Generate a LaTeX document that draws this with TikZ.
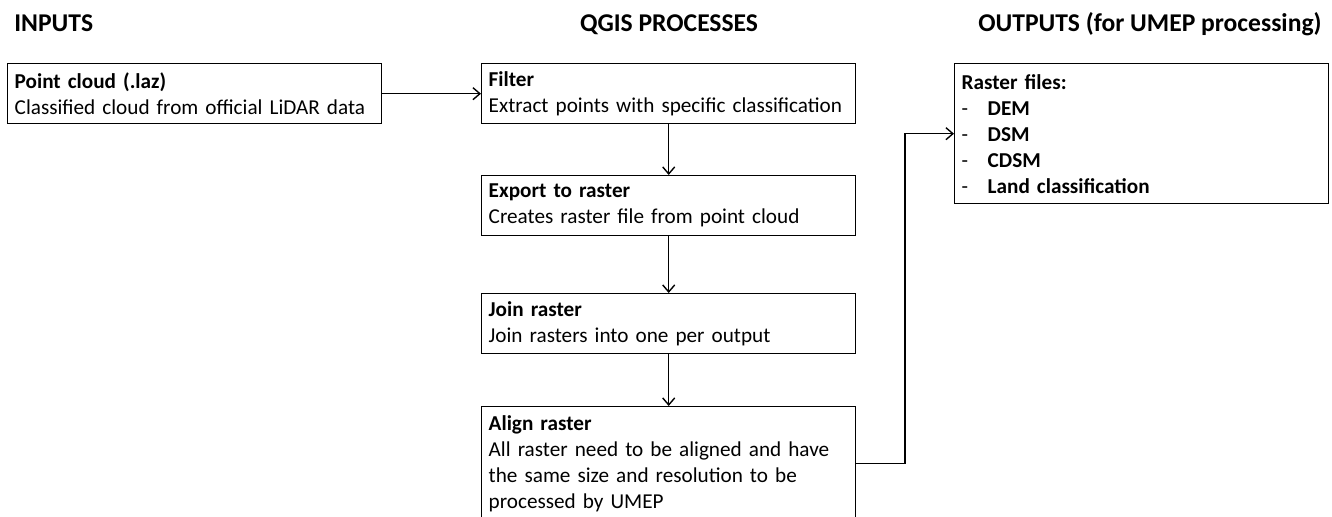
\documentclass[tikz,border=0pt]{standalone}
\usepackage{fontspec}
\setmainfont{Carlito}
\usetikzlibrary{arrows.meta}

\begin{document}
\begin{tikzpicture}[x=0.5pt,y=-0.5pt,
  box/.style={draw,line width=0.7pt,anchor=north west,align=left,text width=180pt,inner xsep=3.5pt,inner ysep=1pt,minimum height=30pt,font=\fontsize{10.6}{13}\selectfont},
  title/.style={anchor=base west,inner sep=0pt,font=\fontsize{12.8}{15}\selectfont\bfseries},
  link/.style={-{Straight Barb[length=3.5pt,width=6pt]},line width=0.7pt}]
\clip (0,0) rectangle (1332,517);
\node[title] (tin) at (14,32) {INPUTS};
\node[title,anchor=base] (tqgis) at (669,32) {QGIS PROCESSES};
\node[title,anchor=base east] (tout) at (1322,32) {OUTPUTS (for UMEP processing)};
\node[box] (cloud) at (7,63) {\textbf{Point cloud (.laz)}\\Classified cloud from official LiDAR data};
\node[box] (filter) at (481,63) {\textbf{Filter}\\Extract points with specific classification};
\node[box] (export) at (481,175) {\textbf{Export to raster}\\Creates raster file from point cloud};
\node[box] (join) at (481,293) {\textbf{Join raster}\\Join rasters into one per output};
\node[box,minimum height=57pt] (align) at (481,406) {\textbf{Align raster}\\All raster need to be aligned and have\\the same size and resolution to be\\processed by UMEP};
\node[box,minimum height=70pt] (out) at (954,63) {\textbf{Raster files:}\\
  \makebox[13pt][l]{-}\textbf{DEM}\\
  \makebox[13pt][l]{-}\textbf{DSM}\\
  \makebox[13pt][l]{-}\textbf{CDSM}\\
  \makebox[13pt][l]{-}\textbf{Land classification}};
\coordinate (turn) at (905,0);
\draw[link] (cloud) -- (filter);
\foreach \a/\b in {filter/export,export/join,join/align}
  \draw[link] (\a) -- (\b);
\draw[link] (align.east) -- (align.east -| turn) |- (out.west);
\end{tikzpicture}
\end{document}
